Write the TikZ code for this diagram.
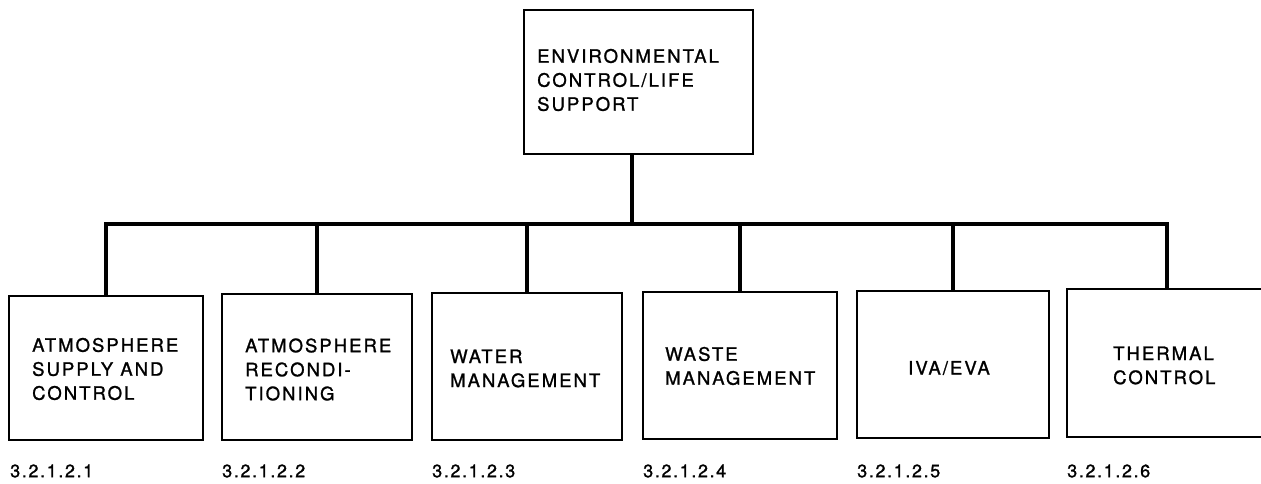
\documentclass[tikz,border=0pt]{standalone}
\usepackage{fontspec}
\setmainfont{TeX Gyre Heros}[LetterSpace=11,FakeBold=1.2]
\begin{document}
\begin{tikzpicture}[x=1pt,y=-1pt,
  box/.style={draw=black,line width=2.6pt,rectangle,inner sep=0pt},
  caption/.style={font=\fontsize{18.5}{24}\selectfont,align=left,inner sep=0pt,anchor=west},
  code/.style={font=\fontsize{18}{20}\selectfont\addfontfeature{LetterSpace=9},inner sep=0pt,anchor=west},
  link/.style={line width=3.4pt}]
\useasboundingbox[fill=white] (0,0) rectangle (1261,484);

% top-level system
\node[box,minimum width=229pt,minimum height=144pt] (top) at (638.5,82) {};
\node[caption] (ttop) at (537,80) {ENVIRONMENTAL\\CONTROL/LIFE\\SUPPORT};

% subsystems
\node[box,minimum width=194pt,minimum height=144pt] (b1) at (106,368) {};
\node[box,minimum width=190pt,minimum height=146pt] (b2) at (317,367) {};
\node[box,minimum width=190pt,minimum height=147pt] (b3) at (527,366.5) {};
\node[box,minimum width=194pt,minimum height=147pt] (b4) at (740,365.5) {};
\node[box,minimum width=192pt,minimum height=147pt] (b5) at (953,364.5) {};
\node[box,minimum width=200pt,minimum height=148pt] (b6) at (1167,363) {};

\node[caption] (t1) at (32,369) {ATMOSPHERE\\SUPPLY AND\\CONTROL};
\node[caption] (t2) at (245,369.5) {ATMOSPHERE\\RECONDI-\\TIONING};
\node[caption] (t3) at (450,368.5) {WATER\\MANAGEMENT};
\node[caption] (t4) at (665,366) {WASTE\\MANAGEMENT};
\node[caption,anchor=center] (t5) at (949,368) {IVA/EVA};
\node[caption] (t6) at (1113,365.5) {THERMAL\\CONTROL};

% paragraph numbers
\node[code] (n1) at (10,471) {3.2.1.2.1};
\node[code] (n2) at (222,471) {3.2.1.2.2};
\node[code] (n3) at (432,471) {3.2.1.2.3};
\node[code] (n4) at (643,471) {3.2.1.2.4};
\node[code] (n5) at (857,471) {3.2.1.2.5};
\node[code] (n6) at (1067,471) {3.2.1.2.6};

% tree connectors
\coordinate (hub) at (632,224);
\draw[link] ([xshift=-6.5pt]top.south) -- (hub);
\draw[link] (b1.north) |- (b6.north |- hub) -- (b6.north);
\foreach \b in {b2,b3,b4,b5}
  \draw[link] (\b.north) -- (\b.north |- hub);
\end{tikzpicture}
\end{document}
